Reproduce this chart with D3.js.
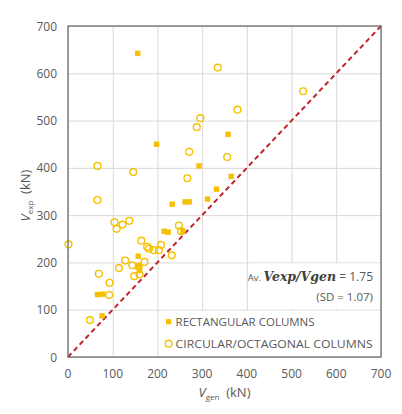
<!DOCTYPE html>
<html>
<head>
<meta charset="utf-8">
<script src="https://cdn.jsdelivr.net/npm/d3@7"></script>
<style>
  body { margin: 0; background: #fff; }
  text { font-family: "Open Sans", sans-serif; fill: #595959; }
</style>
</head>
<body>
<script>
// rectangular columns: V_gen, V_exp (kN)
var rectGen = [156, 198, 293, 358, 365, 332, 312, 233, 262, 271, 215, 224, 257, 157, 158, 160, 66, 77, 76];
var rectExp = [642, 450, 404, 471, 382, 355, 334, 323, 328, 328, 266, 264, 266, 213, 192, 183, 132, 133, 87];

// circular / octagonal columns
var circGen = [335, 526, 379, 296, 288, 271, 356, 66, 146, 267, 66, 104, 109, 122, 137, 248, 253, 1,
               164, 177, 181, 192, 203, 208, 232, 128, 144, 158, 171, 114, 148, 160, 69, 93, 92, 49];
var circExp = [612, 562, 523, 505, 486, 434, 423, 404, 391, 378, 332, 285, 271, 280, 288, 278, 266, 238,
               246, 233, 229, 226, 226, 237, 215, 204, 194, 191, 201, 188, 171, 175, 176, 157, 131, 78];

var ticks = [0, 100, 200, 300, 400, 500, 600, 700];

var margin = {top: 26, right: 21, bottom: 57, left: 68}
  , width = 402 - margin.left - margin.right
  , height = 414 - margin.top - margin.bottom;

var x = d3.scaleLinear().domain([0, 700]).range([0, width]);
var y = d3.scaleLinear().domain([0, 700]).range([height, 0]);

var svg = d3.select('body').append('svg')
            .attr('width', 402)
            .attr('height', 414);

var main = svg.append('g')
              .attr('transform', 'translate(' + margin.left + ',' + margin.top + ')');

// grid lines
main.append('g')
    .attr('class', 'grid')
    .call(d3.axisBottom(x).tickValues(ticks).tickSize(-height).tickFormat(''))
    .attr('transform', 'translate(0,' + height + ')')
    .call(function(g) { g.select('.domain').remove(); })
    .selectAll('line').attr('stroke', '#d9d9d9');

main.append('g')
    .call(d3.axisLeft(y).tickValues(ticks).tickSize(-width).tickFormat(''))
    .call(function(g) { g.select('.domain').remove(); })
    .selectAll('line').attr('stroke', '#d9d9d9');

// white boxes behind annotation and legend
main.append('rect')
    .attr('x', x(405)).attr('y', y(200) + 1)
    .attr('width', width - x(405)).attr('height', y(100) - y(200) - 2)
    .attr('fill', '#fff');
main.append('rect')
    .attr('x', x(207)).attr('y', y(100) + 1)
    .attr('width', width - x(207)).attr('height', height - y(100) - 1)
    .attr('fill', '#fff');

// 1:1 line
main.append('line')
    .attr('x1', x(0)).attr('y1', y(0))
    .attr('x2', x(700)).attr('y2', y(700))
    .attr('stroke', '#c0232e')
    .attr('stroke-width', 2)
    .attr('stroke-dasharray', '5,3.5');

var yellow = '#f5c000';

// points
main.append('g').selectAll('circle')
    .data(circGen)
    .enter().append('circle')
    .attr('cx', function(d) { return x(d); })
    .attr('cy', function(d, i) { return y(circExp[i]); })
    .attr('r', 3.4)
    .attr('fill', 'none')
    .attr('stroke', yellow)
    .attr('stroke-width', 1.4);

main.append('g').selectAll('rect')
    .data(rectGen)
    .enter().append('rect')
    .attr('x', function(d) { return x(d) - 2.7; })
    .attr('y', function(d, i) { return y(rectExp[i]) - 2.7; })
    .attr('width', 5.4)
    .attr('height', 5.4)
    .attr('fill', yellow);

// frame
main.append('rect')
    .attr('width', width).attr('height', height)
    .attr('fill', 'none')
    .attr('stroke', '#6e6e6e')
    .attr('stroke-width', 1.3);

// tick labels
main.append('g').selectAll('text')
    .data(ticks)
    .enter().append('text')
    .attr('x', function(d) { return x(d); })
    .attr('y', height + 21)
    .attr('text-anchor', 'middle')
    .attr('font-size', 12)
    .text(function(d) { return d; });

main.append('g').selectAll('text')
    .data(ticks)
    .enter().append('text')
    .attr('x', -11)
    .attr('y', function(d) { return y(d) + 4.5; })
    .attr('text-anchor', 'end')
    .attr('font-size', 12)
    .text(function(d) { return d; });

// axis titles
var xt = svg.append('text')
    .attr('x', margin.left + width / 2)
    .attr('y', 397)
    .attr('text-anchor', 'middle')
    .attr('font-size', 13);
xt.append('tspan').attr('font-style', 'italic').text('V');
xt.append('tspan').attr('font-size', 8).attr('dy', 3).text('gen');
xt.append('tspan').attr('dy', -3).text('\u00a0 (kN)');

var yt = svg.append('text')
    .attr('transform', 'translate(30,' + (margin.top + height / 2 + 4) + ') rotate(-90)')
    .attr('text-anchor', 'middle')
    .attr('font-size', 13);
yt.append('tspan').attr('font-style', 'italic').text('V');
yt.append('tspan').attr('font-size', 8).attr('dy', 3).text('exp');
yt.append('tspan').attr('dy', -3).text('\u00a0 (kN)');

// annotation
var an = main.append('text')
    .attr('x', width - 8)
    .attr('y', y(200) + 19)
    .attr('text-anchor', 'end')
    .attr('font-size', 12);
an.append('tspan').attr('font-size', 9.5).text('Av. ');
an.append('tspan')
  .attr('font-family', '"DejaVu Serif", serif')
  .attr('font-style', 'italic').attr('font-weight', 'bold')
  .attr('font-size', 12.5).attr('fill', '#404040')
  .text('Vexp/Vgen');
an.append('tspan').text(' = 1.75');

main.append('text')
    .attr('x', width - 8)
    .attr('y', y(200) + 39)
    .attr('text-anchor', 'end')
    .attr('font-size', 11.5)
    .text('(SD = 1.07)');

// legend
var lx = x(225);
main.append('rect')
    .attr('x', lx - 2.6).attr('y', y(100) + 12 - 2.6)
    .attr('width', 5.2).attr('height', 5.2)
    .attr('fill', yellow);
main.append('circle')
    .attr('cx', lx).attr('cy', y(100) + 34)
    .attr('r', 3.4)
    .attr('fill', 'none').attr('stroke', yellow).attr('stroke-width', 1.4);

main.append('text')
    .attr('x', lx + 7).attr('y', y(100) + 16)
    .attr('font-size', 11)
    .attr('textLength', 139).attr('lengthAdjust', 'spacingAndGlyphs')
    .text('RECTANGULAR COLUMNS');
main.append('text')
    .attr('x', lx + 7).attr('y', y(100) + 38.5)
    .attr('font-size', 11)
    .attr('textLength', 197).attr('lengthAdjust', 'spacingAndGlyphs')
    .text('CIRCULAR/OCTAGONAL COLUMNS');
</script>
</body>
</html>
